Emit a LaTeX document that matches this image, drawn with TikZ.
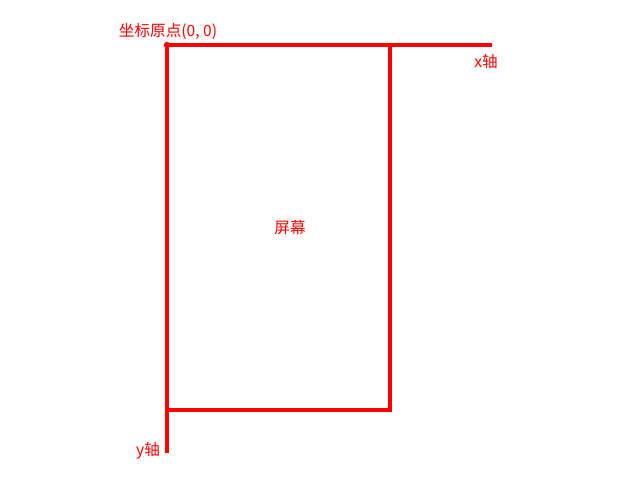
\documentclass[tikz,border=0pt]{standalone}
\usepackage{fontspec}
\newfontfamily\cjk{Noto Sans CJK SC}
\usetikzlibrary{positioning}

\begin{document}
\begin{tikzpicture}[
	x=1pt, y=-1pt,
	every node/.style={font=\cjk\fontsize{15.6}{18}\selectfont, text=red, inner sep=0pt},
	axis/.style={draw=red, line width=4.2pt},
	screen/.style={draw=red, line width=4.2pt}
	]
	\useasboundingbox (0,0) rectangle (640,480);
	
	\coordinate (O) at (167,45);
	\coordinate (xend) at (492,45);
	\coordinate (yend) at (167,453);
	\coordinate (corner) at (390,410);
	
	\draw[screen] (O) rectangle (corner);
	\draw[axis] (O) -- (xend);
	\draw[axis] (O) -- (yend);
	\fill[red] (O) circle (3.2pt);
	
	\node (origin) at (168,31) {坐标原点(0, 0)};
	\node (xlabel) at (486,62) {x轴};
	\node (ylabel) at (148,451) {y轴};
	\node (screenlabel) at (290,228) {屏幕};
	
\end{tikzpicture}
\end{document}
